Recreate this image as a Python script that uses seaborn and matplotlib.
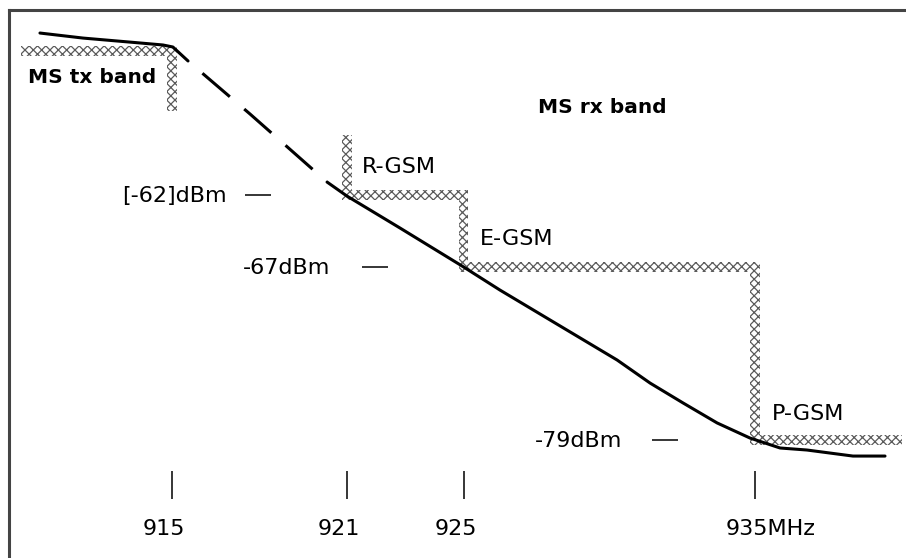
import seaborn as sns
import pandas as pd
import numpy as np
import matplotlib.pyplot as plt
from matplotlib.patches import Rectangle

# blocking level curve (MHz / dBm)
tx_side_mhz = [910.47, 911.95, 913.56, 914.69, 915.03, 915.55]
tx_side_dbm = [-50.75, -51.10, -51.38, -51.58, -51.72, -52.69]
gap_mhz = [915.55, 917.68, 920.32]
gap_dbm = [-52.69, -56.38, -61.10]
rx_side_mhz = [920.32, 921.0, 922.82, 924.95, 926.25, 927.97, 930.27, 931.40,
               932.53, 933.70, 934.83, 935.86, 936.78, 938.36, 939.46]
rx_side_dbm = [-61.10, -62.07, -64.29, -66.93, -68.60, -70.68, -73.46, -75.06,
               -76.44, -77.83, -78.88, -79.57, -79.71, -80.13, -80.13]

# hatched limit lines
tx_mask_mhz = [910.0, 915.0, 915.0]
tx_mask_dbm = [-52.0, -52.0, -55.8]
rx_mask_mhz = [921.0, 921.0, 925.0, 925.0, 935.0, 935.0, 939.87]
rx_mask_dbm = [-58.2, -62.0, -62.0, -67.0, -67.0, -79.0, -79.0]

freq_ticks = [915, 921, 925, 935]
freq_labels = ['915', '921', '925', '935MHz']
levels = [-62, -67, -79]
level_labels = ['[-62]dBm', '-67dBm', '-79dBm']

sns.set_style('white')
plt.rcParams['font.family'] = ['DejaVu Sans']
plt.rcParams['text.color'] = 'black'
plt.rcParams['hatch.linewidth'] = 0.9

fig = plt.figure(figsize=(9.06, 5.58), dpi=100)
ax = fig.add_axes([9 / 906, 0, 897 / 906, 548 / 558])
ax.set_xlim(909.408, 940.18)
ax.set_ylim(-87.21, -49.15)
ax.set_xticks([])
ax.set_yticks([])
for s in ['right', 'bottom']:
    ax.spines[s].set_visible(False)
for s in ['left', 'top']:
    ax.spines[s].set_color('#444444')
    ax.spines[s].set_linewidth(2.2)


def hatched_path(xs, ys):
    hw, hh = 0.17, 0.35
    for x0, y0, x1, y1 in zip(xs[:-1], ys[:-1], xs[1:], ys[1:]):
        if y0 == y1:
            r = Rectangle((min(x0, x1) - hw, y0 - hh), abs(x1 - x0) + 2 * hw, 2 * hh)
        else:
            r = Rectangle((x0 - hw, min(y0, y1) - hh), 2 * hw, abs(y1 - y0) + 2 * hh)
        r.set_facecolor('white')
        r.set_edgecolor('#5a5a5a')
        r.set_hatch('xxxx')
        r.set_linewidth(0)
        r.set_zorder(1)
        ax.add_patch(r)


hatched_path(tx_mask_mhz, tx_mask_dbm)
hatched_path(rx_mask_mhz, rx_mask_dbm)

# curve
sns.lineplot(x=tx_side_mhz, y=tx_side_dbm, sort=False, estimator=None,
             color='black', linewidth=2.2, ax=ax, zorder=3)
sns.lineplot(x=gap_mhz, y=gap_dbm, sort=False, estimator=None,
             color='black', linewidth=2.2, ax=ax, zorder=3,
             linestyle=(11.8, (11.8, 6.2)))
sns.lineplot(x=rx_side_mhz, y=rx_side_dbm, sort=False, estimator=None,
             color='black', linewidth=2.2, ax=ax, zorder=3)

# frequency marks
ax.vlines(freq_ticks, -83.11, -81.17, color='black', linewidth=1.1)
for f, lab in zip(freq_ticks, freq_labels):
    ax.text(f - 1.0, -85.61, lab, fontsize=16, va='baseline', ha='left')

# level marks
label_right = [916.89, 920.42, 930.44]
dash_from = [917.50, 921.52, 931.47]
for lv, lab, xr, xd in zip(levels, level_labels, label_right, dash_from):
    ax.text(xr, lv - 0.5, lab, fontsize=16, va='baseline', ha='right')
    ax.hlines(lv, xd, xd + 0.9, color='black', linewidth=1.1)

# band names
ax.text(910.06, -54.22, 'MS tx band', fontsize=14.5, fontweight='bold', va='baseline')
ax.text(927.56, -56.31, 'MS rx band', fontsize=14.5, fontweight='bold', va='baseline')
ax.text(921.52, -60.47, 'R-GSM', fontsize=16, va='baseline')
ax.text(925.57, -65.47, 'E-GSM', fontsize=16, va='baseline')
ax.text(935.58, -77.63, 'P-GSM', fontsize=16, va='baseline')

plt.savefig('out.png', dpi=100)
